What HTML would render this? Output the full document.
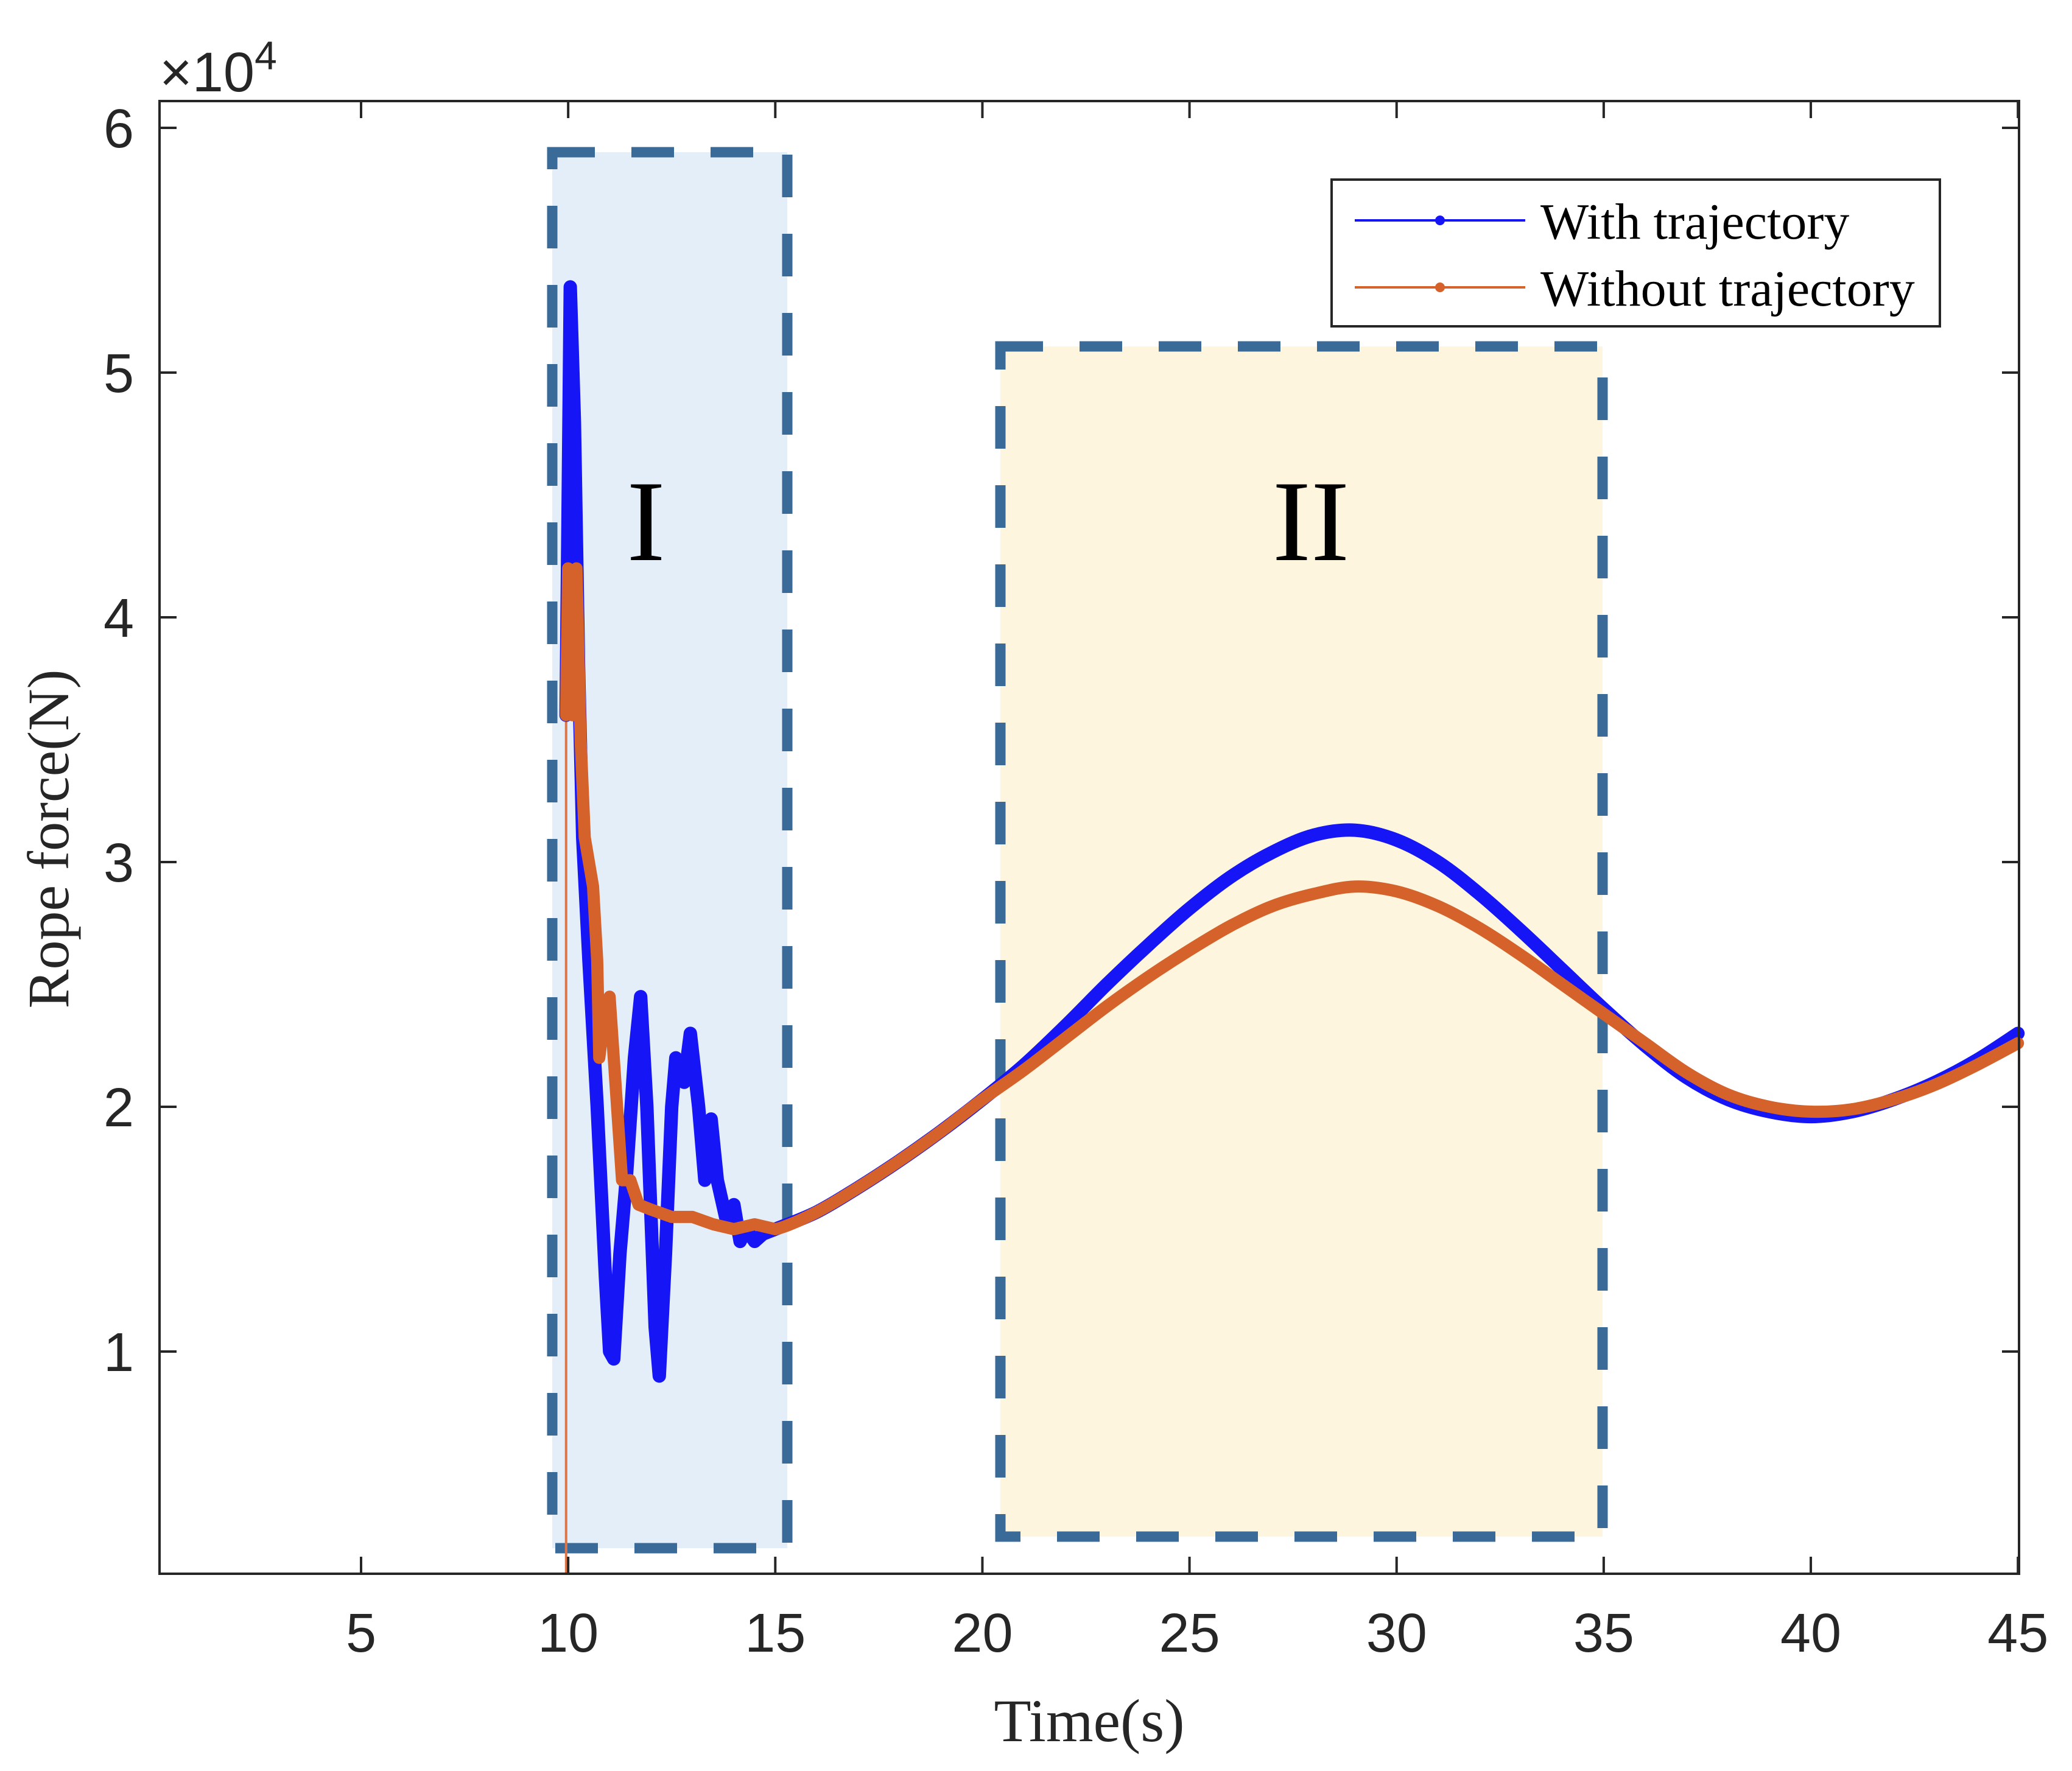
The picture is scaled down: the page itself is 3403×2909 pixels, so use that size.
<!DOCTYPE html>
<html><head><meta charset="utf-8"><style>html,body{margin:0;padding:0;background:#fff}svg{display:block}</style></head>
<body>
<svg id="chart" width="3403" height="2909" viewBox="0 0 3403 2909" xmlns="http://www.w3.org/2000/svg"></svg>
<script>
const xTicks=[5,10,15,20,25,30,35,40,45];
const yTicks=[1,2,3,4,5,6];
const withT=[9.95,10.05,10.15,10.25,10.35,10.5,10.7,10.9,11.0,11.1,11.25,11.4,11.6,11.75,11.9,12.1,12.2,12.35,12.5,12.6,12.8,12.95,13.15,13.3,13.45,13.6,13.8,14.0,14.15,14.3,14.5,14.7,15,16,17,18,19,20,21,22,23,24,25,26,27,28,29,30,31,32,33,34,35,36,37,38,39,40,41,42,43,44,45];
const withV=[3.6,5.35,4.8,3.8,3.1,2.6,2.0,1.3,1.0,0.97,1.4,1.7,2.2,2.45,2.0,1.1,0.9,1.4,2.0,2.2,2.1,2.3,2.0,1.7,1.95,1.7,1.55,1.6,1.45,1.5,1.45,1.48,1.5,1.57,1.67,1.78,1.9,2.03,2.17,2.33,2.50,2.66,2.81,2.94,3.04,3.11,3.13,3.09,3.00,2.87,2.72,2.56,2.40,2.25,2.12,2.03,1.98,1.96,1.98,2.03,2.10,2.19,2.30];
const woT=[9.95,10.0,10.1,10.2,10.3,10.4,10.6,10.7,10.75,10.9,11.0,11.1,11.3,11.5,11.7,12,12.5,13,13.5,14,14.5,15,16,17,18,19,20,21,22,23,24,25,26,27,28,29,30,31,32,33,34,35,36,37,38,39,40,41,42,43,44,45];
const woV=[3.6,4.2,3.6,4.2,3.5,3.1,2.9,2.6,2.2,2.4,2.45,2.2,1.7,1.7,1.6,1.58,1.55,1.55,1.52,1.5,1.52,1.5,1.57,1.67,1.78,1.9,2.03,2.15,2.28,2.41,2.53,2.64,2.74,2.82,2.87,2.90,2.88,2.82,2.73,2.62,2.50,2.38,2.26,2.14,2.05,2.00,1.98,1.99,2.03,2.09,2.17,2.26];
const L=262,R=3316,T=166,B=2585;
const X=v=>593+(v-5)*68.03;
const Y=v=>2220-(v-1)*402;
const svg=document.getElementById('chart');
const NS='http://www.w3.org/2000/svg';
function mk(tag,attrs,parent){const e=document.createElementNS(NS,tag);for(const k in attrs)e.setAttribute(k,attrs[k]);(parent||svg).appendChild(e);return e;}
const r1=mk('rect',{x:907,y:250,width:386,height:2293,fill:'#e3eef8',stroke:'#3a6b98','stroke-width':17,'stroke-dasharray':'70 60'});


const r2=mk('rect',{x:1643,y:569,width:989,height:1955,fill:'#fdf5dd',stroke:'#3a6b98','stroke-width':17,'stroke-dasharray':'70 60'});


const t1=mk('text',{x:1061,y:920,'font-family':'Liberation Serif, serif','font-size':190,'text-anchor':'middle',fill:'#000'});t1.textContent='I';


const t2=mk('text',{x:2153,y:920,'font-family':'Liberation Serif, serif','font-size':190,'text-anchor':'middle',fill:'#000'});t2.textContent='II';


const vline=mk('line',{x1:X(9.95),y1:B,x2:X(9.95),y2:Y(3.6),stroke:'#d9774a','stroke-width':4});


function series(ts,vs,color,name,w){
  const P=ts.map((t,i)=>[X(t),Y(vs[i])]);
  let d='M'+P[0][0].toFixed(1)+','+P[0][1].toFixed(1);
  for(let i=1;i<P.length;i++){
    if(ts[i-1]>=15){
      const p0=P[Math.max(i-2,0)],p1=P[i-1],p2=P[i],p3=P[Math.min(i+1,P.length-1)];
      const c1=[p1[0]+(p2[0]-p0[0])/6,p1[1]+(p2[1]-p0[1])/6];
      const c2=[p2[0]-(p3[0]-p1[0])/6,p2[1]-(p3[1]-p1[1])/6];
      d+=' C'+c1[0].toFixed(1)+','+c1[1].toFixed(1)+' '+c2[0].toFixed(1)+','+c2[1].toFixed(1)+' '+p2[0].toFixed(1)+','+p2[1].toFixed(1);
    } else d+=' L'+P[i][0].toFixed(1)+','+P[i][1].toFixed(1);
  }
  const e=mk('path',{d:d,fill:'none',stroke:color,'stroke-width':w,'stroke-linejoin':'round','stroke-linecap':'round'});
  
  }
series(withT,withV,'#1515f5','with-trajectory-line',22);
series(woT,woV,'#d4622a','without-trajectory-line',20);
const ax=mk('rect',{x:L,y:T,width:R-L,height:B-T,fill:'none',stroke:'#262626','stroke-width':4});


xTicks.forEach(v=>{const x=X(v);mk('line',{x1:x,y1:B,x2:x,y2:B-28,stroke:'#262626','stroke-width':4});mk('line',{x1:x,y1:T,x2:x,y2:T+28,stroke:'#262626','stroke-width':4});
const t=mk('text',{x:x,y:B+128,'font-family':'Liberation Sans, sans-serif','font-size':90,'text-anchor':'middle',fill:'#262626'});t.textContent=v;

});
yTicks.forEach(v=>{const y=Y(v);mk('line',{x1:L,y1:y,x2:L+28,y2:y,stroke:'#262626','stroke-width':4});mk('line',{x1:R,y1:y,x2:R-28,y2:y,stroke:'#262626','stroke-width':4});
const t=mk('text',{x:L-42,y:y+32,'font-family':'Liberation Sans, sans-serif','font-size':90,'text-anchor':'end',fill:'#262626'});t.textContent=v;

});
const ex=mk('text',{x:262,y:150,'font-family':'Liberation Sans, sans-serif','font-size':92,fill:'#262626'});ex.innerHTML='×10<tspan dy="-36" font-size="66">4</tspan>';


const xl=mk('text',{x:1789,y:2860,'font-family':'Liberation Serif, serif','font-size':100,'text-anchor':'middle',fill:'#262626'});xl.textContent='Time(s)';


const yl=mk('text',{x:0,y:0,'font-family':'Liberation Serif, serif','font-size':96,'text-anchor':'middle',fill:'#262626',transform:'translate(112,1378) rotate(-90)'});yl.textContent='Rope force(N)';


const lg=mk('g',{});


mk('rect',{x:2187,y:295,width:999,height:241,fill:'#fff',stroke:'#262626','stroke-width':4},lg);
mk('line',{x1:2225,y1:362,x2:2505,y2:362,stroke:'#1515f5','stroke-width':4},lg);
mk('circle',{cx:2365,cy:362,r:8,fill:'#1515f5'},lg);
mk('line',{x1:2225,y1:472,x2:2505,y2:472,stroke:'#d4622a','stroke-width':4},lg);
mk('circle',{cx:2365,cy:472,r:8,fill:'#d4622a'},lg);
const l1=mk('text',{x:2530,y:392,'font-family':'Liberation Serif, serif','font-size':84,fill:'#000'},lg);l1.textContent='With trajectory';


const l2=mk('text',{x:2530,y:502,'font-family':'Liberation Serif, serif','font-size':84,fill:'#000'},lg);l2.textContent='Without trajectory';


</script>
</body></html>
